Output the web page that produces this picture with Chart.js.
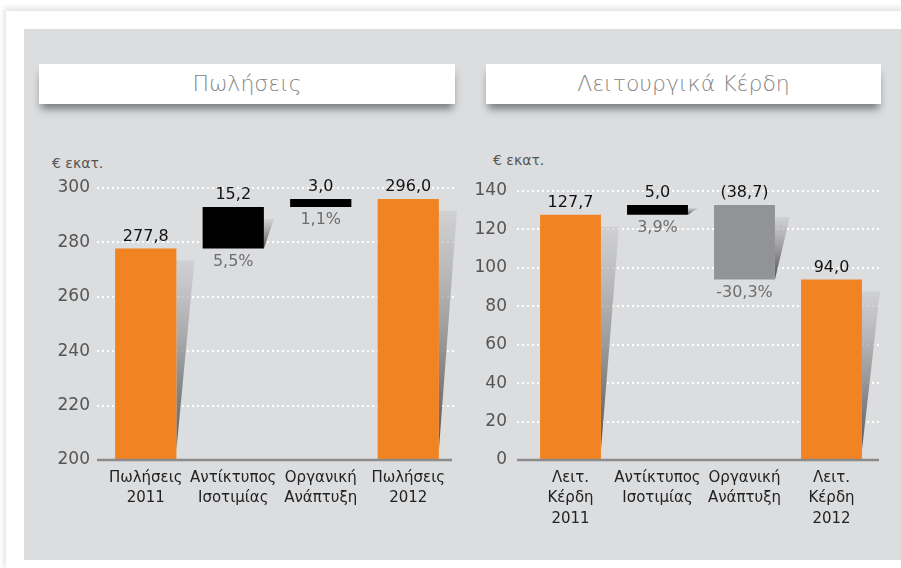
<!DOCTYPE html>
<html>
<head>
<meta charset="utf-8">
<script src="https://cdn.jsdelivr.net/npm/chart.js@4/dist/chart.umd.min.js"></script>
<style>
  body { margin: 0; background: #fff; width: 901px; height: 568px; overflow: hidden; position: relative; font-family: "DejaVu Sans", sans-serif; }
  #card { position: absolute; left: 6px; top: 11px; width: 900px; height: 560px; background: #fff; box-shadow: -2px -3px 6px rgba(0,0,0,0.12); }
  #panel { position: absolute; left: 24px; top: 29px; width: 877px; height: 531px; background: #dcdddf; }
  .titlos { position: absolute; top: 64px; height: 40px; background: #fff; color: #858585; font-size: 22px; font-weight: 300;
            text-align: center; line-height: 40px; box-shadow: 0 7px 8px -2px rgba(0,0,0,0.45); }
  .monada { position: absolute; color: #555; font-size: 14px; }
  .box { position: absolute; }
</style>
</head>
<body>
<div id="card"></div>
<div id="panel"></div>
<div class="titlos" style="left:39px;width:416px;">Πωλήσεις</div>
<div class="titlos" style="left:486px;width:395px;">Λειτουργικά Κέρδη</div>
<div class="monada" style="left:52px;top:155px;">€ εκατ.</div>
<div class="monada" style="left:493px;top:152px;">€ εκατ.</div>
<div class="box" style="left:30px;top:150px;width:430px;height:400px;"><canvas id="chartPolhseis"></canvas></div>
<div class="box" style="left:470px;top:150px;width:420px;height:400px;"><canvas id="chartKerdh"></canvas></div>
<script>
// Πωλήσεις (€ εκατ.)
const salesLabels = [["Πωλήσεις", "2011"], ["Αντίκτυπος", "Ισοτιμίας"], ["Οργανική", "Ανάπτυξη"], ["Πωλήσεις", "2012"]]
const salesStart = 277.8
const salesChanges = [15.2, 3.0]
const salesEnd = 296.0
const salesPct = [5.5, 1.1]
const salesTicks = [200, 220, 240, 260, 280, 300]

// Λειτουργικά Κέρδη (€ εκατ.)
const profitLabels = [["Λειτ.", "Κέρδη", "2011"], ["Αντίκτυπος", "Ισοτιμίας"], ["Οργανική", "Ανάπτυξη"], ["Λειτ.", "Κέρδη", "2012"]]
const profitStart = 127.7
const profitChanges = [5.0, -38.7]
const profitEnd = 94.0
const profitPct = [3.9, -30.3]
const profitTicks = [0, 20, 40, 60, 80, 100, 120, 140]

const PORTOKALI = "#f28322"
const MAVRO = "#000000"
const GKRI = "#929396"

function arithmos(v) {
  let s = Math.abs(v).toFixed(1).replace(".", ",")
  return v < 0 ? "(" + s + ")" : s
}
function pososto(v) {
  return v.toFixed(1).replace(".", ",") + "%"
}

// waterfall: κάθε μεταβολή ξεκινά από το τέλος της προηγούμενης
function katarraktis(baseMin, start, changes, end) {
  let out = [[baseMin, start]]
  let trexon = start
  changes.forEach(c => {
    out.push([Math.min(trexon, trexon + c), Math.max(trexon, trexon + c)])
    trexon += c
  })
  out.push([baseMin, end])
  return out
}

// γραμμές πλέγματος, άξονας, σκιές και ετικέτες τιμών
const waterfallPlugin = {
  id: "waterfall",
  beforeDatasetsDraw(chart, args, opts) {
    const ctx = chart.ctx
    const area = chart.chartArea
    const y = chart.scales.y
    ctx.save()
    ctx.strokeStyle = "#ffffff"
    ctx.lineWidth = 2
    ctx.setLineDash([2, 3])
    y.ticks.forEach(t => {
      if (t.value === y.min) return
      const py = Math.round(y.getPixelForValue(t.value))
      ctx.beginPath()
      ctx.moveTo(area.left - opts.extLeft, py)
      ctx.lineTo(area.right + opts.extRight, py)
      ctx.stroke()
    })
    ctx.setLineDash([])

    // σκιά δεξιά από κάθε μπάρα
    const meta = chart.getDatasetMeta(0)
    meta.data.forEach((bar, i) => {
      if (opts.noShadow.includes(i)) return
      const top = Math.min(bar.y, bar.base)
      const bottom = Math.max(bar.y, bar.base)
      const h = bottom - top
      const right = bar.x + bar.width / 2
      const w = Math.max(10, Math.min(18, h * 0.2))
      const y0 = top + Math.min(12, h * 0.3)
      const g = ctx.createLinearGradient(0, y0, 0, bottom)
      g.addColorStop(0, "rgba(200,200,202,0.6)")
      g.addColorStop(1, "rgba(70,70,70,0.95)")
      ctx.fillStyle = g
      ctx.beginPath()
      ctx.moveTo(right, y0)
      ctx.lineTo(right + w, y0)
      ctx.lineTo(right, bottom - (h > 100 ? 10 : 0))
      ctx.closePath()
      ctx.fill()
    })
    ctx.restore()
  },
  afterDatasetsDraw(chart, args, opts) {
    const ctx = chart.ctx
    const area = chart.chartArea
    ctx.save()
    // άξονας x
    ctx.strokeStyle = "#8c8c8c"
    ctx.lineWidth = 2.5
    ctx.beginPath()
    ctx.moveTo(area.left - opts.extLeft, area.bottom)
    ctx.lineTo(area.right + opts.extRight - 3, area.bottom)
    ctx.stroke()

    const meta = chart.getDatasetMeta(0)
    ctx.textAlign = "center"
    ctx.textBaseline = "middle"
    meta.data.forEach((bar, i) => {
      const top = Math.min(bar.y, bar.base)
      const bottom = Math.max(bar.y, bar.base)
      ctx.font = "16px 'DejaVu Sans'"
      ctx.fillStyle = "#111"
      ctx.fillText(opts.values[i], bar.x, top - 12)
      if (opts.pcts[i]) {
        ctx.fillStyle = "#6e6e6e"
        ctx.fillText(opts.pcts[i], bar.x, bottom + 13)
      }
    })
    ctx.restore()
  }
}

function ftiaxe(id, labels, data, colors, ticks, yWidth, padTop, padRight, tickPad, values, pcts, ext, noShadow) {
  return new Chart(id, {
    type: "bar",
    data: {
      labels: labels,
      datasets: [{
        data: data,
        backgroundColor: colors,
        borderWidth: 0,
        barPercentage: 0.7,
        categoryPercentage: 1
      }]
    },
    options: {
      responsive: true,
      maintainAspectRatio: false,
      animation: false,
      layout: { padding: { top: padTop, right: padRight, left: 0, bottom: 0 } },
      plugins: {
        legend: { display: false },
        tooltip: { enabled: false },
        waterfall: { values: values, pcts: pcts, extLeft: ext[0], extRight: ext[1], noShadow: noShadow }
      },
      scales: {
        x: {
          grid: { display: false, drawTicks: false },
          border: { display: false },
          ticks: { color: "#222", padding: 8, font: { family: "DejaVu Sans", size: 15, lineHeight: 1.35 }, maxRotation: 0, autoSkip: false },
          afterFit(scale) { scale.height = 90 }
        },
        y: {
          min: ticks[0],
          max: ticks[ticks.length - 1],
          afterBuildTicks(scale) { scale.ticks = ticks.map(v => ({ value: v })) },
          grid: { display: false, drawTicks: false },
          border: { display: false },
          ticks: { color: "#555", padding: tickPad, font: { family: "DejaVu Sans", size: 17 } },
          afterFit(scale) { scale.width = yWidth }
        }
      }
    },
    plugins: [waterfallPlugin]
  })
}

const salesData = katarraktis(salesTicks[0], salesStart, salesChanges, salesEnd)
const salesValues = [arithmos(salesStart)].concat(salesChanges.map(arithmos), [arithmos(salesEnd)])
ftiaxe("chartPolhseis", salesLabels, salesData, [PORTOKALI, MAVRO, MAVRO, PORTOKALI], salesTicks,
  72, 38, 8, 12, salesValues, [null].concat(salesPct.map(pososto), [null]), [5, 3], [2])

const profitData = katarraktis(profitTicks[0], profitStart, profitChanges, profitEnd)
const profitValues = [arithmos(profitStart)].concat(profitChanges.map(arithmos), [arithmos(profitEnd)])
ftiaxe("chartKerdh", profitLabels, profitData, [PORTOKALI, MAVRO, GKRI, PORTOKALI], profitTicks,
  57, 41, 15, 20, profitValues, [null].concat(profitPct.map(pososto), [null]), [10, 7], [])
</script>
</body>
</html>
